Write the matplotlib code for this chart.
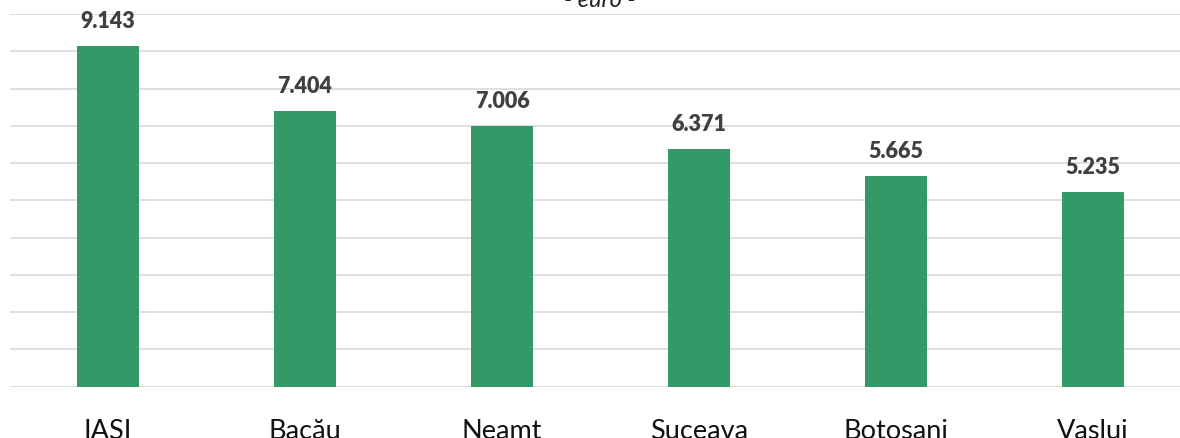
import matplotlib
matplotlib.use("Agg")
import matplotlib.pyplot as plt

categories = ["IAȘI", "Bacău", "Neamț", "Suceava", "Botoșani", "Vaslui"]
values = [9.143, 7.404, 7.006, 6.371, 5.665, 5.235]
value_labels = ["9.143", "7.404", "7.006", "6.371", "5.665", "5.235"]
title_text = "- euro -"

plt.rcParams['font.family'] = ['Lato', 'DejaVu Sans']

W, H = 1180, 438
fig = plt.figure(figsize=(W / 100, H / 100), dpi=100)
left = 9.5 / W
width = 1182 / W
bottom = (H - 386.7) / H
top = (H - 14) / H
ax = fig.add_axes([left, bottom, width, top - bottom])

x = range(len(categories))
ax.bar(x, values, width=0.31, color="#339966", zorder=3)
ax.set_xlim(-0.5, len(categories) - 0.5)
ax.set_ylim(0, 10)
ax.set_yticks(range(0, 11))
ax.yaxis.grid(True, color="#d9d9d9", linewidth=1.2, zorder=0)
ax.tick_params(axis="y", left=False, labelleft=False)
ax.tick_params(axis="x", bottom=False, pad=20, labelsize=19.5, labelcolor="#111111")
ax.set_xticks(list(x))
ax.set_xticklabels(categories)
for s in ax.spines.values():
    s.set_visible(False)

for xi, v, lab in zip(x, values, value_labels):
    ax.annotate(lab, (xi, v), xytext=(0, 10), textcoords="offset points",
                ha="center", va="bottom", fontsize=15.5, fontweight="heavy",
                color="#404040")

fig.text(600 / W, (H - 7) / H, title_text, ha="center", va="baseline",
         fontsize=17, style="italic", color="#222222")

fig.savefig("out.png", dpi=100)
